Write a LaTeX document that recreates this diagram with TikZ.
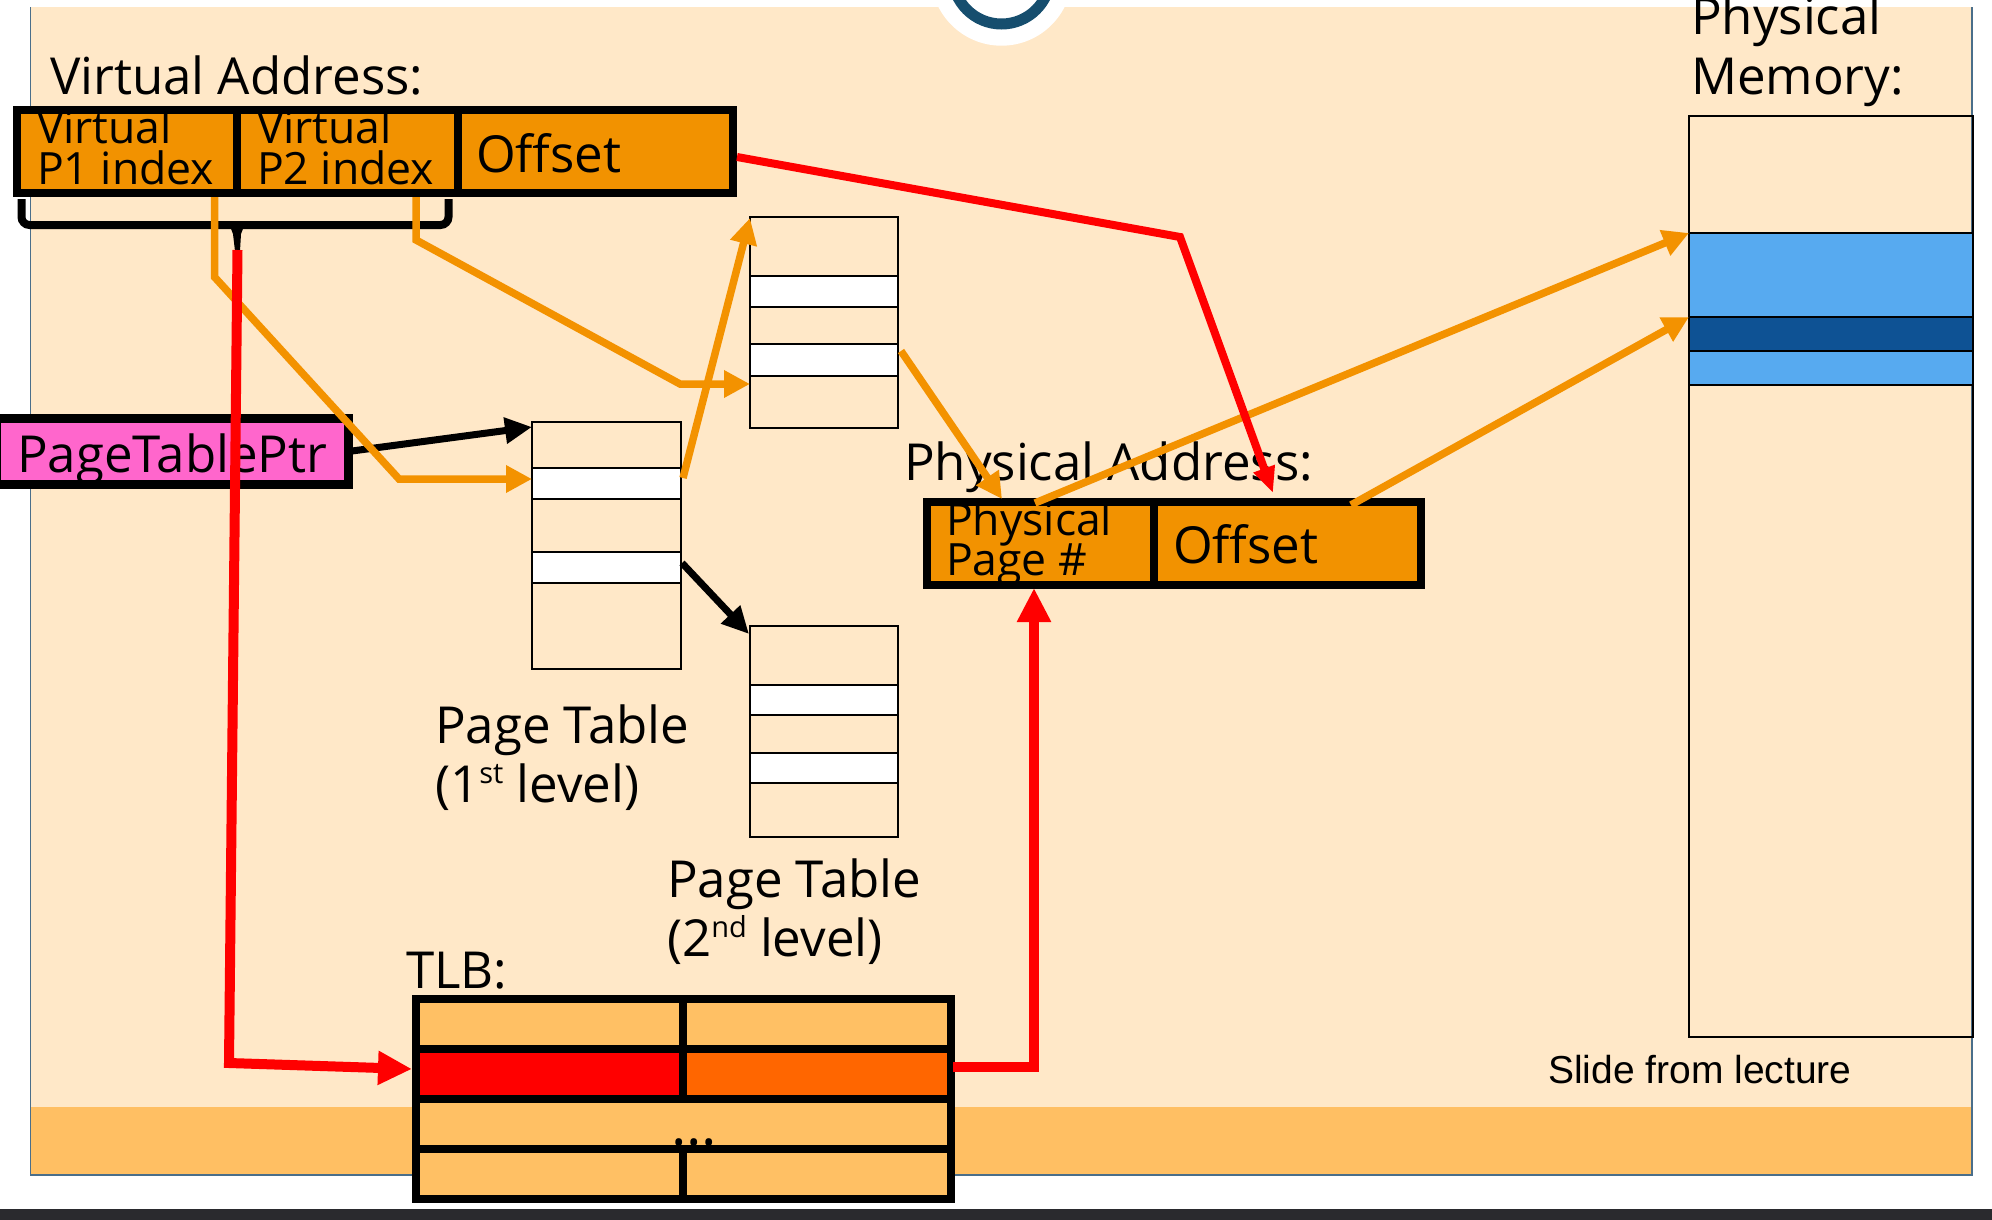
\documentclass[tikz,border=0pt]{standalone}
\usepackage{fontspec}
\setmainfont{Open Sans}
\newfontfamily\notefont{Liberation Sans}
\usetikzlibrary{arrows.meta}

\definecolor{slidebg}{HTML}{FFE8C8}
\definecolor{slideband}{HTML}{FFBF63}
\definecolor{slideedge}{HTML}{4A6E8A}
\definecolor{fieldorange}{HTML}{F29200}
\definecolor{lineorange}{HTML}{F39200}
\definecolor{ptrpink}{HTML}{FF66CC}
\definecolor{tlbfill}{HTML}{FFC064}
\definecolor{tlbhit}{HTML}{FF6600}
\definecolor{memlight}{HTML}{57AAF0}
\definecolor{memdark}{HTML}{0E5294}
\definecolor{logoblue}{HTML}{164E6E}
\definecolor{footerdark}{HTML}{2A2A2E}

% two stacked lines with a fixed baseline distance; the box baseline is the first line's
\newcommand{\twoline}[3]{\vtop{\baselineskip=#1\lineskiplimit=-\maxdimen\hbox{#2}\hbox{#3}}}
\newcommand{\ordsup}[1]{\raisebox{0.36em}{\fontsize{29}{29}\selectfont #1}}

\begin{document}
\begin{tikzpicture}[x=1pt,y=-1pt,
  every node/.style={inner sep=0pt, outer sep=0pt},
  bigtext/.style={anchor=base west, font=\fontsize{51}{60}\selectfont},
  fieldtext/.style={anchor=base west, font=\fontsize{44.5}{40}\selectfont},
  notetext/.style={anchor=base west, font=\notefont\fontsize{39}{44}\selectfont},
  boxline/.style={draw=black, line width=8pt},
  tableline/.style={draw=black, line width=2.5pt},
  orangelink/.style={draw=lineorange, line width=7.5pt, -{Triangle[length=26pt,width=26pt]}},
  blacklink/.style={draw=black, line width=7pt, -{Triangle[length=27pt,width=25pt]}},
  redthin/.style={draw=red, line width=8pt, -{Triangle[length=26pt,width=21pt]}},
  redthick/.style={draw=red, line width=10pt, -{Triangle[length=34pt,width=32pt]}},
]
\useasboundingbox (0,0) rectangle (1992,1220);
\clip (0,0) rectangle (1992,1220);

% slide background
\fill[white] (0,0) rectangle (1992,1220);
\fill[slidebg] (30.5,7.3) rectangle (1972,1107);
\fill[slideband] (30.5,1107) rectangle (1972,1175);
\draw[slideedge, line width=1.5pt] (30.5,7.3) -- (30.5,1175) -- (1972,1175) -- (1972,7.3);
\fill[footerdark] (0,1209) rectangle (1992,1220);

% logo ring at the top edge
\fill[white] (1001.5,-25) circle[radius=70.7pt];
\draw[logoblue, line width=11pt] (1001.5,-25) circle[radius=49pt];

% ---- virtual address ----
\node[bigtext] (valabel) at (50,95) {Virtual Address:};
\fill[fieldorange] (16.7,110) rectangle (733,193);
\node[fieldtext] (vp1) at (37,144) {\twoline{40pt}{Virtual}{P1 index}};
\node[fieldtext] (vp2) at (257,144) {\twoline{40pt}{Virtual}{P2 index}};
\node[bigtext] (voff) at (476,172) {Offset};
\draw[boxline] (16.7,110) rectangle (733,193)
  (236.5,110) -- (236.5,193) (457.5,110) -- (457.5,193);

% bracket under the two index fields
\draw[black, line width=8pt, rounded corners=8pt] (21.5,199) -- (21.5,225) -- (448.5,225) -- (448.5,199);
\fill[black] (228,221) -- (246,221) -- (241,234) -- (240,251) -- (235,251) -- (233,234) -- cycle;

% ---- page table pointer ----
\fill[ptrpink] (-3,418.5) rectangle (348.5,484.5);
\node[bigtext] (ptrtext) at (17,472) {PageTablePtr};
\draw[black, line width=8.5pt] (-3,418.5) rectangle (348.5,484.5);

% ---- first level page table ----
\fill[white] (532,468) rectangle (681,499) (532,552) rectangle (681,583);
\draw[tableline] (532,422) rectangle (681,669)
  (532,468) -- (681,468) (532,499) -- (681,499)
  (532,552) -- (681,552) (532,583) -- (681,583);
\node[bigtext] (pt1label) at (435,743) {\twoline{59pt}{Page Table}{(1\ordsup{st} level)}};

% ---- second level page tables ----
\fill[white] (750,276) rectangle (898,307) (750,344) rectangle (898,376);
\draw[tableline] (750,217) rectangle (898,428)
  (750,276) -- (898,276) (750,307) -- (898,307)
  (750,344) -- (898,344) (750,376) -- (898,376);
\fill[white] (750,685) rectangle (898,715) (750,753) rectangle (898,783);
\draw[tableline] (750,626) rectangle (898,837)
  (750,685) -- (898,685) (750,715) -- (898,715)
  (750,753) -- (898,753) (750,783) -- (898,783);
\node[bigtext] (pt2label) at (667,897) {\twoline{59pt}{Page Table}{(2\ordsup{nd} level)}};

% ---- physical memory ----
\node[bigtext] (pmlabel) at (1691,35) {\twoline{60pt}{Physical}{Memory:}};
\fill[memlight] (1689,233) rectangle (1973,385);
\fill[memdark] (1689,317) rectangle (1973,351);
\draw[tableline] (1689,116) rectangle (1973,1037)
  (1689,233) -- (1973,233) (1689,317) -- (1973,317)
  (1689,351) -- (1973,351) (1689,385) -- (1973,385);

% ---- physical address ----
\node[bigtext] (palabel) at (904,480) {Physical Address:};
\fill[fieldorange] (926.7,502) rectangle (1421,585);
\node[fieldtext] (ppage) at (946,535) {\twoline{40pt}{Physical}{Page \#}};
\node[bigtext] (poff) at (1173,563) {Offset};
\draw[boxline] (926.7,502) rectangle (1421,585) (1154,502) -- (1154,585);

% ---- TLB ----
\node[bigtext] (tlblabel) at (406,988) {TLB:};
\fill[tlbfill] (416,999) rectangle (951,1199);
\fill[red] (416,1049) rectangle (683,1099);
\fill[tlbhit] (683,1049) rectangle (951,1099);
\node[anchor=base west, font=\fontsize{58}{60}\selectfont] (tlbdots) at (671,1145) {...};
\draw[boxline] (416,999) rectangle (951,1199)
  (416,1049) -- (951,1049) (416,1099) -- (951,1099) (416,1149) -- (951,1149)
  (683,999) -- (683,1099) (683,1149) -- (683,1199);

\node[notetext] (note) at (1548,1083) {Slide from lecture};

% ---- connector end points ----
\coordinate (bracetip) at (237.5,250);
\coordinate (vp1out) at (214.5,197);
\coordinate (vp2out) at (416,197);
\coordinate (voffout) at (737,157);
\coordinate (ptrout) at (352,451);
\coordinate (pt1top) at (532,427);
\coordinate (pt1entry) at (532,479);
\coordinate (pt1rowa) at (683,478);
\coordinate (pt1rowb) at (682,563);
\coordinate (pt2atop) at (750,218);
\coordinate (pt2aentry) at (750,384);
\coordinate (pt2arow) at (901,351);
\coordinate (pt2btop) at (749,634);
\coordinate (ppagetop) at (1002,499);
\coordinate (ppagestart) at (1035,503);
\coordinate (ppagebottom) at (1034,588);
\coordinate (poffin) at (1273,493);
\coordinate (poffstart) at (1351,505);
\coordinate (memblock) at (1689,233);
\coordinate (memword) at (1689,317);
\coordinate (tlbhitin) at (412,1069);
\coordinate (tlbhitout) at (953,1067);

% ---- connectors ----
\draw[blacklink] (ptrout) -- (pt1top);
\draw[blacklink] (pt1rowb) -- (pt2btop);

\draw[orangelink] (vp1out) -- (214.5,277) -- (399,479) -- (pt1entry);
\draw[orangelink] (vp2out) -- (416,240) -- (680,384) -- (pt2aentry);
\draw[orangelink] (pt1rowa) -- (pt2atop);
\draw[orangelink] (pt2arow) -- (ppagetop);
\draw[orangelink] (ppagestart) -- (memblock);
\draw[orangelink] (poffstart) -- (memword);

\draw[redthin] (voffout) -- (1180,237) -- (poffin);
\draw[redthick] (bracetip) -- (229,1063) -- (tlbhitin);
\draw[redthick] (tlbhitout) -- (1034,1067) -- (ppagebottom);
\end{tikzpicture}
\end{document}
